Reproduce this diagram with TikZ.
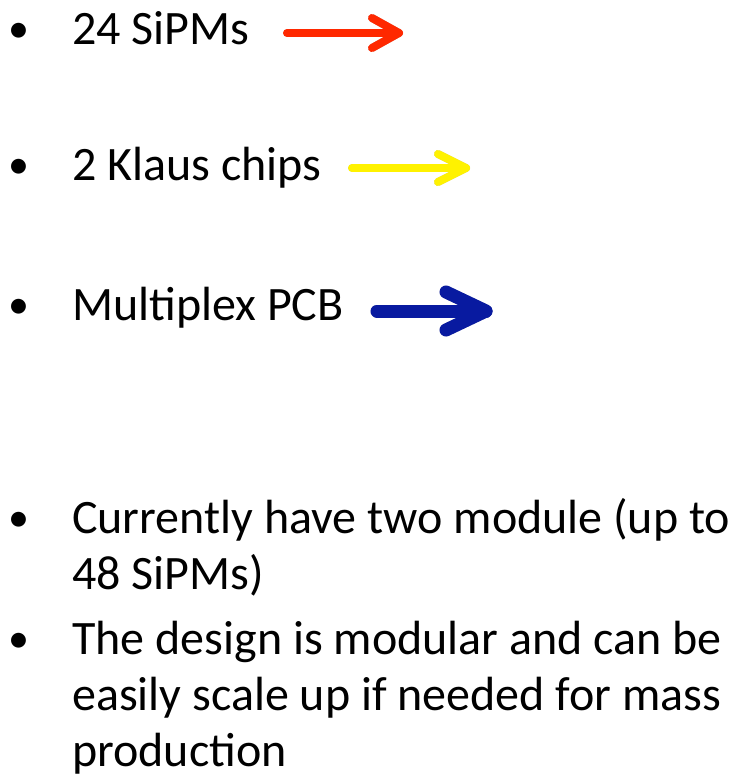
\documentclass[tikz,border=0pt]{standalone}
\usepackage{fontspec}
\setmainfont{Carlito}
\usepackage{tikz}

\definecolor{sipmred}{RGB}{255,40,0}
\definecolor{klausyellow}{RGB}{255,242,0}
\definecolor{pcbblue}{RGB}{8,26,160}

\newcommand{\slidefont}{\fontsize{48}{56}\selectfont}

\begin{document}
\begin{tikzpicture}[x=1pt,y=1pt,
    item/.style={anchor=base west, inner sep=0pt, font=\slidefont, align=left},
    dot/.style={anchor=base west, inner sep=0pt, font=\fontsize{42}{42}\selectfont},
    shade/.style={draw=black, opacity=0.18, line cap=round, line join=round},
    pointer/.style={line cap=round, line join=round}]
    \useasboundingbox (0,0) rectangle (736,-774);

    % bullets with arrows
    \node[dot] (dotA) at (8,-42) {•};
    \node[item] (sipm) at (72,-44) {24 SiPMs};
    \node[dot] (dotB) at (8,-178) {•};
    \node[item] (klaus) at (72,-180) {2 Klaus chips};
    \node[dot] (dotC) at (8,-318) {•};
    \node[item] (pcb) at (72,-320) {Multiplex PCB};

    \coordinate (redtail) at (287,-33);
    \coordinate (redtip) at (399,-33);
    \coordinate (yeltail) at (352,-168);
    \coordinate (yeltip) at (466,-168);
    \coordinate (bluetail) at (377,-311);
    \coordinate (bluetip) at (486,-311);

    % soft shadows first
    \begin{scope}[shift={(2,-3)}]
        \draw[shade, line width=8] (redtail) -- (redtip);
        \draw[shade, line width=8] (redtip) ++(-27,15) -- (redtip) -- ++(-27,-15);
        \draw[shade, line width=8] (yeltail) -- (yeltip);
        \draw[shade, line width=8] (yeltip) ++(-28,14) -- (yeltip) -- ++(-28,-14);
        \draw[shade, line width=13] (bluetail) -- (bluetip);
        \draw[shade, line width=13] (bluetip) ++(-40,19) -- (bluetip) -- ++(-40,-19);
    \end{scope}

    \draw[pointer, sipmred, line width=8] (redtail) -- (redtip);
    \draw[pointer, sipmred, line width=8] (redtip) ++(-27,15) -- (redtip) -- ++(-27,-15);
    \draw[pointer, klausyellow, line width=8] (yeltail) -- (yeltip);
    \draw[pointer, klausyellow, line width=8] (yeltip) ++(-28,14) -- (yeltip) -- ++(-28,-14);
    \draw[pointer, pcbblue, line width=13] (bluetail) -- (bluetip);
    \draw[pointer, pcbblue, line width=13] (bluetip) ++(-40,19) -- (bluetip) -- ++(-40,-19);

    % plain bullets (multi-line nodes sit on their last baseline)
    \node[dot] (dotD) at (8,-531) {•};
    \node[item] (modules) at (72,-589) {Currently have two module (up to\\48 SiPMs)};
    \node[dot] (dotE) at (8,-652) {•};
    \node[item] (design) at (72,-766) {The design is modular and can be\\easily scale up if needed for mass\\production};
\end{tikzpicture}
\end{document}
